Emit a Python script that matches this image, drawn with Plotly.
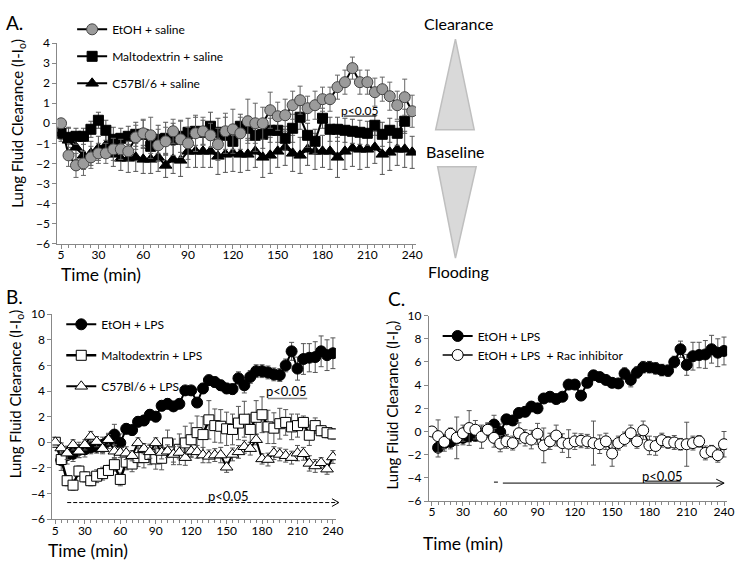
import plotly.graph_objects as go

W, H = 744, 567
FONT = "Lato"


def px(x):
    return x / W


def py(y):
    return 1 - y / H


# ---- data -------------------------------------------------------------
times = [5, 10, 15, 20, 25, 30, 35, 40, 45, 50, 55, 60, 65, 70, 75, 80,
         85, 90, 95, 100, 105, 110, 115, 120, 125, 130, 135, 140, 145, 150,
         155, 160, 165, 170, 175, 180, 185, 190, 195, 200, 205, 210, 215,
         220, 225, 230, 235, 240]
tick_labels = [5, 30, 60, 90, 120, 150, 180, 210, 240]

# panel A
etoh_saline = [0.0, -1.6, -2.1, -2.0, -1.7, -1.5, -1.5, -1.3, -1.3, -1.4,
               -0.7, -0.5, -0.6, -1.1, -0.9, -0.4, -0.8, -1.0, -0.5, -0.4,
               -0.6, -1.05, -0.4, -0.3, -0.5, 0.1, 0.0, 0.0, 0.65, 0.35,
               0.4, 0.9, 1.15, 0.75, 0.9, 1.2, 1.2, 1.8, 2.05, 2.75,
               2.05, 2.05, 1.55, 1.7, 1.35, 0.9, 1.3, 0.6]
etoh_saline_err = [0.0, 0.55, 0.6, 0.6, 0.55, 0.5, 0.5, 0.55, 0.5, 0.5,
                   0.6, 0.7, 0.9, 0.8, 0.7, 0.6, 0.9, 0.8, 0.9, 0.7,
                   0.6, 0.8, 0.9, 1.0, 0.8, 1.1, 1.0, 0.8, 0.9, 0.7,
                   0.8, 0.7, 0.7, 0.6, 0.7, 0.6, 0.6, 0.6, 0.6, 0.55,
                   0.6, 0.6, 0.7, 0.6, 0.7, 0.7, 0.9, 0.8]
malto_saline = [-0.5, -0.7, -0.65, -0.65, -0.3, 0.15, -0.35, -0.8, -0.75, -0.65,
                -0.55, -0.55, -1.15, -0.8, -0.75, -0.8, -0.65, -0.45, -0.4, -0.45,
                -0.15, -0.45, -0.6, -0.9, -0.15, -0.25, -0.6, -0.55, -0.35, -0.35,
                -0.75, -0.25, 0.3, -0.6, -0.9, 0.25, -0.3, -0.3, -0.35, -0.4,
                -0.45, -0.5, -0.1, -0.55, -0.35, -0.5, 0.1]
malto_saline_err = [0.3, 0.5, 0.4, 0.4, 0.4, 0.4, 0.5, 0.6, 0.5, 0.5,
                    0.6, 0.7, 0.6, 0.7, 0.8, 0.8, 0.8, 0.7, 0.7, 0.6,
                    0.7, 0.7, 0.9, 0.6, 0.6, 0.6, 0.8, 0.7, 0.6, 0.6,
                    0.6, 0.7, 0.6, 0.6, 0.6, 0.5, 0.6, 0.6, 0.6, 0.6,
                    0.6, 0.6, 0.5, 0.6, 0.6, 0.6, 0.6]
c57_saline = [-0.5, -0.85, -1.2, -1.6, -1.5, -1.25, -1.1, -1.55, -1.75, -1.75,
              -1.7, -1.8, -1.8, -1.7, -2.1, -1.8, -1.85, -1.4, -1.4, -1.4,
              -1.4, -1.65, -1.55, -1.5, -1.55, -1.55, -1.4, -1.7, -1.6, -1.4,
              -1.2, -1.5, -1.6, -1.3, -1.4, -1.4, -1.4, -1.7, -1.4, -1.25,
              -1.3, -1.3, -1.2, -1.55, -1.45, -1.3, -1.3, -1.45]
c57_saline_err = [0.4, 0.6, 0.6, 0.7, 0.6, 0.6, 0.6, 0.6, 0.6, 0.7,
                  0.7, 0.7, 0.7, 0.7, 0.6, 0.7, 0.8, 0.8, 0.8, 0.8,
                  0.8, 0.9, 0.9, 0.9, 0.9, 0.8, 0.8, 1.0, 0.9, 0.8,
                  0.9, 0.9, 0.9, 0.8, 0.9, 0.8, 0.9, 1.0, 0.9, 0.9,
                  1.0, 0.9, 0.8, 1.0, 0.9, 0.8, 0.9, 0.8]

# panels B and C (EtOH + LPS starts at 10 min)
etoh_lps = [-1.4, -1.0, -0.9, -0.6, -0.55, -0.4, -0.35, -0.2, 0.1,
            0.6, -0.05, 1.05, 0.95, 1.6, 1.7, 2.15, 2.0, 2.85, 3.0,
            2.8, 3.0, 4.05, 4.05, 3.1, 4.2, 4.85, 4.7, 4.45, 4.2,
            4.15, 5.0, 4.45, 5.1, 5.55, 5.55, 5.45, 5.3, 5.25, 6.0,
            7.1, 5.75, 6.5, 6.6, 6.65, 7.1, 6.8, 6.95]
etoh_lps_err = [0.8, 0.7, 0.6, 0.6, 0.6, 0.5, 0.5, 0.6, 0.6,
                0.8, 0.7, 0.4, 0.4, 0.4, 0.4, 0.4, 0.4, 0.4, 0.4,
                0.3, 0.3, 0.3, 0.3, 0.3, 0.4, 0.4, 0.4, 0.4, 0.4,
                0.4, 0.5, 0.6, 0.5, 0.5, 0.5, 0.5, 0.5, 0.5, 0.5,
                0.7, 0.9, 1.2, 1.1, 1.2, 1.2, 1.2, 1.2]
malto_lps = [0.0, -1.35, -3.0, -3.35, -2.25, -2.7, -3.0, -2.65, -2.45, -2.2,
             -1.75, -2.9, -1.55, -1.7, -1.2, -1.2, -0.95, -1.3, -1.25, -0.05,
             -0.75, -0.55, -0.05, 0.2, 0.75, 0.6, 1.75, 1.3, 1.25, 1.05,
             1.0, 1.5, 1.8, 1.0, 1.95, 2.15, 1.2, 1.1, 1.45, 1.55,
             1.2, 1.3, 1.55, 0.55, 1.3, 0.9, 0.75, 0.65]
malto_lps_err = [0.1, 0.4, 0.4, 0.4, 0.4, 0.4, 0.4, 0.5, 0.5, 0.4,
                 0.5, 0.5, 0.6, 0.6, 0.7, 0.8, 0.8, 0.8, 0.9, 1.0,
                 1.0, 1.2, 1.3, 1.3, 1.3, 1.4, 1.5, 1.3, 1.3, 1.3,
                 1.2, 1.3, 1.4, 1.2, 1.3, 1.4, 1.3, 1.2, 1.2, 1.0,
                 1.0, 0.9, 0.5, 0.8, 0.6, 0.4, 0.4, 0.4]
c57_lps = [0.0, -0.45, -0.85, -0.2, -0.7, -0.2, 0.45, 0.05, -0.5, 0.2,
           -0.7, -0.8, -0.85, -1.05, -0.05, -0.5, -0.75, -0.05, -0.8, -0.7,
           -0.95, -0.8, -1.2, -0.7, -0.75, -1.0, -1.1, -1.0, -1.0, -1.95,
           -0.95, -0.75, -0.35, -0.5, 0.2, -1.3, -1.35, -0.85, -0.95, -1.05,
           -1.2, -0.85, -0.9, -1.65, -1.85, -1.6, -2.1, -1.15]
c57_lps_err = [0.1, 0.4, 0.5, 0.4, 0.5, 0.4, 0.4, 0.4, 0.4, 0.4,
               0.5, 0.4, 0.5, 0.4, 0.4, 0.4, 0.5, 0.4, 0.5, 0.5,
               0.6, 0.5, 0.6, 0.5, 0.5, 0.6, 0.5, 0.5, 0.6, 0.4,
               0.5, 0.5, 0.5, 0.5, 0.4, 0.4, 0.5, 0.5, 0.5, 0.5,
               0.5, 0.6, 0.5, 0.6, 0.5, 0.4, 0.4, 0.5]
rac_lps = [0.0, -0.4, -0.9, -0.2, -0.55, -0.15, 0.3, 0.15, -0.45, 0.15,
           -0.55, -1.05, -0.85, -1.0, -0.15, -0.55, -0.7, -0.2, -1.2, -0.85,
           -0.35, -1.0, -1.05, -0.85, -0.8, -0.85, -1.0, -1.1, -0.85, -1.9,
           -1.0, -0.65, -0.15, -0.85, 0.1, -1.2, -1.25, -0.75, -0.95, -0.95,
           -1.1, -1.1, -1.0, -0.85, -1.85, -1.7, -2.05, -1.1]
rac_lps_err = [0.1, 1.4, 0.6, 0.5, 1.8, 0.7, 1.5, 0.8, 1.0, 0.6,
               0.8, 0.7, 0.6, 0.6, 0.9, 0.7, 0.8, 0.9, 1.5, 0.7,
               0.9, 0.8, 1.2, 0.7, 0.6, 0.6, 1.9, 0.8, 0.7, 1.1,
               0.6, 0.6, 0.7, 0.6, 0.8, 0.8, 0.8, 0.6, 0.5, 0.6,
               0.5, 1.9, 0.6, 0.5, 0.6, 0.5, 0.6, 1.1]

# ---- figure -----------------------------------------------------------
fig = go.Figure()


def series(x, y, err, name, ax, legend, symbol, fill, size=11, lw=2,
           ecolor="#555555", rank=1):
    fig.add_trace(go.Scatter(
        x=x, y=y, name=name, mode="lines+markers",
        xaxis="x" + ax, yaxis="y" + ax, legend=legend,
        legendgroup=name + legend, legendrank=rank,
        line=dict(color="black", width=lw),
        marker=dict(symbol=symbol, size=size, color=fill,
                    line=dict(color="black" if fill != "#9b9b9b" else "#444444", width=1)),
        error_y=dict(type="data", array=err, color=ecolor, thickness=1, width=2.5),
    ))


# panel A (circles drawn last so they sit on top)
series(times, c57_saline, c57_saline_err, "C57Bl/6 + saline", "", "legend",
       "triangle-up", "black", rank=3)
series(times[:47], malto_saline, malto_saline_err, "Maltodextrin + saline", "", "legend",
       "square", "black", size=10, rank=2)
series(times, etoh_saline, etoh_saline_err, "EtOH + saline", "", "legend",
       "circle", "#9b9b9b", ecolor="#666666", rank=1)

# panel B
series(times[1:], etoh_lps, etoh_lps_err, "EtOH + LPS", "2", "legend2",
       "circle", "black", rank=1)
series(times, malto_lps, malto_lps_err, "Maltodextrin + LPS", "2", "legend2",
       "square", "white", size=10, lw=2.5, rank=2)
series(times, c57_lps, c57_lps_err, "C57Bl/6 + LPS", "2", "legend2",
       "triangle-up", "white", rank=3)

# panel C
series(times[1:], etoh_lps, etoh_lps_err, "EtOH + LPS", "3", "legend3",
       "circle", "black", rank=1)
series(times, rac_lps, rac_lps_err, "EtOH + LPS  + Rac inhibitor", "3", "legend3",
       "circle", "white", lw=1.5, rank=2)

axis_common = dict(showline=True, linecolor="#888888", linewidth=1, ticks="outside",
                   tickcolor="#888888", showgrid=False, zeroline=False,
                   tickfont=dict(family=FONT, size=12, color="black"))
xaxis_common = dict(axis_common, range=[2.5, 242.5], tickmode="array",
                    tickvals=tick_labels, ticklen=4, ticklabelstandoff=-4,
                    minor=dict(ticks="outside", ticklen=3, tick0=0, dtick=5,
                               tickcolor="#888888"))

fig.update_layout(
    width=W, height=H, margin=dict(l=0, r=0, t=0, b=0),
    paper_bgcolor="white", plot_bgcolor="white",
    font=dict(family=FONT, color="black"),
    xaxis=dict(xaxis_common, domain=[px(57), px(420)], anchor="y"),
    yaxis=dict(axis_common, domain=[py(242), py(36)], range=[-6, 4], dtick=1,
               ticklen=4, anchor="x"),
    xaxis2=dict(xaxis_common, domain=[px(52), px(339)], anchor="y2"),
    yaxis2=dict(axis_common, domain=[py(525), py(314.5)], range=[-6, 10], dtick=2,
                ticklen=4, anchor="x2"),
    xaxis3=dict(xaxis_common, domain=[px(433), px(735)], anchor="y3"),
    yaxis3=dict(axis_common, domain=[py(506.4), py(316)], range=[-6, 10], dtick=2,
                ticklen=4, anchor="x3"),
)

legend_common = dict(xanchor="left", yanchor="top", bgcolor="rgba(0,0,0,0)",
                     font=dict(family=FONT, size=12, color="black"),
                     traceorder="grouped", itemwidth=30)
fig.update_layout(
    legend=dict(legend_common, x=px(72), y=py(7), tracegroupgap=8),
    legend2=dict(legend_common, x=px(61), y=py(310), tracegroupgap=12),
    legend3=dict(legend_common, x=px(442), y=py(322), tracegroupgap=0),
)

# ---- text -------------------------------------------------------------
def text(x, y, s, size=12, angle=0, anchor="center"):
    fig.add_annotation(x=px(x), y=py(y), xref="paper", yref="paper", text=s,
                       showarrow=False, textangle=angle, xanchor=anchor,
                       yanchor="middle", font=dict(family=FONT, size=size, color="black"))


ytitle = "Lung Fluid Clearance (I-I<sub>o</sub>)"
text(3, 15, "A.", 19, anchor="left")
text(3, 296, "B.", 19, anchor="left")
text(390, 298, "C.", 19, anchor="left")
text(17, 118, ytitle, 15, -90)
text(15, 396, ytitle, 15, -90)
text(397, 408, ytitle, 15, -90)
text(101, 274, "Time (min)", 17.5)
text(88, 557, "Time (min)", 17.5)
text(468, 550, "Time (min)", 17.5)

text(363, 105, "p<0.05", 12)
text(289, 393, "p<0.05", 13)
text(230, 501, "p<0.05", 13)
text(670, 481, "p<0.05", 13)

text(463, 16, "Clearance", 16)
text(460, 147, "Baseline", 16)
text(463, 271, "Flooding", 16)


def seg(x0, y0, x1, y1, color="black", width=1, dash="solid"):
    fig.add_shape(type="line", xref="paper", yref="paper", x0=px(x0), y0=py(y0),
                  x1=px(x1), y1=py(y1), line=dict(color=color, width=width, dash=dash))


def path(points, fill=None, color="black", width=1, closed=False):
    d = "M " + " L ".join(f"{px(a)},{py(b)}" for a, b in points)
    if closed:
        d += " Z"
    fig.add_shape(type="path", xref="paper", yref="paper", path=d,
                  fillcolor=fill if fill else "rgba(0,0,0,0)",
                  line=dict(color=color, width=width))


# underlines and arrows
seg(347, 111, 380, 111)
seg(270, 401, 310, 401, color="#888888", width=1.5)
seg(67, 508, 341, 508, dash="4px,2px")
path([(335, 504), (342, 508), (335, 512)])
seg(652, 486, 688, 486)
seg(508, 488, 731, 488)
path([(724, 484), (732, 488), (724, 492)])
seg(499, 487, 503, 487)

# clearance / flooding triangles
path([(440, 125), (460, 32), (479, 125)], fill="#d9d9d9", color="#bfbfbf",
     width=1.5, closed=True)
path([(442, 163), (481, 163), (460, 257)], fill="#d9d9d9", color="#bfbfbf",
     width=1.5, closed=True)

fig.write_html("out.html", config={"displayModeBar": False},
               post_script="document.body.style.margin='0px';")
